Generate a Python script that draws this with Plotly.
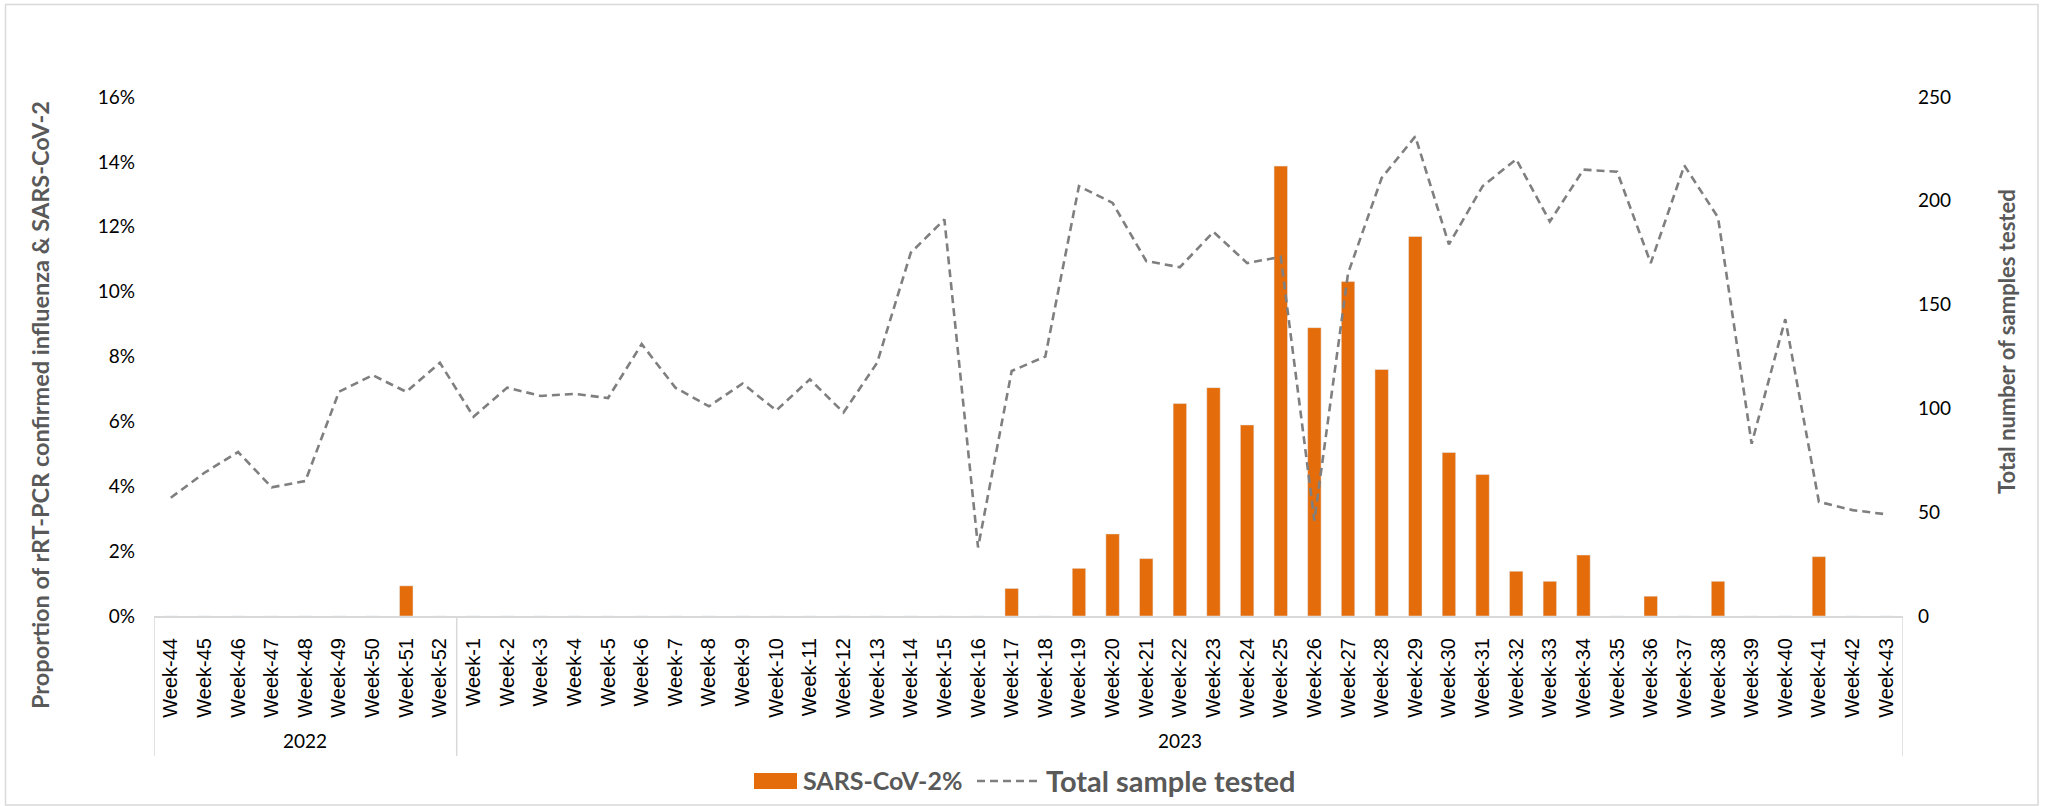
import plotly.graph_objects as go

weeks_2022 = ["Week-44", "Week-45", "Week-46", "Week-47", "Week-48", "Week-49", "Week-50", "Week-51", "Week-52"]
weeks_2023 = ["Week-%d" % i for i in range(1, 44)]
years = ["2022", "2023"]

sars_pct_2022 = [0, 0, 0, 0, 0, 0, 0, 0.93, 0]
sars_pct_2023 = [0, 0, 0, 0, 0, 0, 0, 0, 0, 0,
                 0, 0, 0, 0, 0, 0, 0.85, 0, 1.47, 2.53,
                 1.77, 6.55, 7.04, 5.89, 13.87, 8.89, 10.31, 7.60, 11.70, 5.04,
                 4.36, 1.38, 1.07, 1.88, 0, 0.61, 0, 1.07, 0, 0,
                 1.83, 0, 0]

tested_2022 = [57, 69, 79, 62, 65, 108, 116, 108, 122]
tested_2023 = [96, 110, 106, 107, 105, 131, 110, 101, 112, 99,
               114, 98, 122, 175, 191, 33, 118, 125, 207, 199,
               171, 168, 185, 170, 173, 46, 165, 211, 231, 179,
               207, 220, 190, 215, 214, 170, 217, 192, 83, 143,
               55, 51, 49]

weeks = weeks_2022 + weeks_2023
sars_pct = [v / 100 for v in sars_pct_2022 + sars_pct_2023]
tested = tested_2022 + tested_2023

ORANGE = "#E46C0A"
GRAY = "#7F7F7F"
TITLE = "#595959"
BOX = "#D9D9D9"

fig = go.Figure()
fig.add_trace(go.Bar(x=weeks, y=sars_pct, name="SARS-CoV-2%", marker_color=ORANGE,
                     width=0.4, yaxis="y", showlegend=False))
fig.add_trace(go.Scatter(x=weeks, y=tested, name="Total sample tested", mode="lines",
                         line=dict(color=GRAY, width=2.6, dash="8px,5px"), yaxis="y2",
                         showlegend=False))

W, H = 2046, 806
L, R, T, B = 154, 143, 97, 190
pw, ph = W - L - R, H - T - B
def px(xp):
    return (xp - L) / pw
def py(yp):
    return (H - B - yp) / ph

n22, n23 = len(weeks_2022), len(weeks_2023)
shapes = []
for xv in [-0.5, n22 - 0.5, n22 + n23 - 0.5]:
    shapes.append(dict(type="line", xref="x", yref="paper", x0=xv, x1=xv, y0=0, y1=py(756),
                       line=dict(color=BOX, width=1.5)))
shapes.append(dict(type="rect", xref="paper", yref="paper", x0=px(5.5), x1=px(2038), y0=py(4.5), y1=py(805),
                   line=dict(color=BOX, width=1.5), fillcolor="rgba(0,0,0,0)", layer="below"))
shapes.append(dict(type="rect", xref="paper", yref="paper", x0=px(754), x1=px(797), y0=py(773), y1=py(789),
                   line=dict(width=0), fillcolor=ORANGE))
shapes.append(dict(type="line", xref="paper", yref="paper", x0=px(977), x1=px(1039), y0=py(781), y1=py(781),
                   line=dict(color=GRAY, width=2.6, dash="8px,5px")))

annotations = [
    dict(text=years[0], x=(n22 - 1) / 2, xref="x", y=py(740), yref="paper", showarrow=False,
         font=dict(family="Lato", size=19, color="#000000"), xanchor="center", yanchor="middle"),
    dict(text=years[1], x=n22 + (n23 - 1) / 2, xref="x", y=py(740), yref="paper", showarrow=False,
         font=dict(family="Lato", size=19, color="#000000"), xanchor="center", yanchor="middle"),
    dict(text="<b>Proportion of rRT-PCR confirmed influenza & SARS-CoV-2</b>", textangle=-90,
         x=0, xref="paper", xshift=40 - L, y=py(405), yref="paper", showarrow=False,
         font=dict(family="Lato", size=23.5, color=TITLE), xanchor="center", yanchor="middle"),
    dict(text="<b>Total number of samples tested</b>", textangle=-90,
         x=1, xref="paper", xshift=2006 - (W - R), y=py(342), yref="paper", showarrow=False,
         font=dict(family="Lato", size=22, color=TITLE), xanchor="center", yanchor="middle"),
    dict(text="<b>SARS-CoV-2%</b>", x=px(801), xref="paper", y=py(780), yref="paper", showarrow=False,
         font=dict(family="Lato", size=25, color=TITLE), xanchor="left", yanchor="middle"),
    dict(text="<b>Total sample tested</b>", x=px(1044), xref="paper", y=py(780), yref="paper", showarrow=False,
         font=dict(family="Lato", size=29, color=TITLE), xanchor="left", yanchor="middle"),
]

fig.update_layout(
    width=W, height=H,
    margin=dict(l=L, r=R, t=T, b=B, pad=0),
    paper_bgcolor="white", plot_bgcolor="white",
    showlegend=False,
    xaxis=dict(type="category", categoryorder="array", categoryarray=weeks,
               range=[-0.5, len(weeks) - 0.5], tickangle=-90, showgrid=False, zeroline=False,
               showline=True, linecolor=BOX, linewidth=2, ticks="",
               tickfont=dict(family="Liberation Sans", size=20, color="#000000"),
               ticklabelstandoff=12),
    yaxis=dict(range=[0, 0.16], dtick=0.02, tickformat=".0%", showgrid=False, zeroline=False,
               showline=False, ticks="", ticklabelstandoff=18,
               tickfont=dict(family="Lato", size=19, color="#000000")),
    yaxis2=dict(range=[0, 250], dtick=50, overlaying="y", side="right", showgrid=False,
                zeroline=False, showline=False, ticks="", ticklabelstandoff=14,
                tickfont=dict(family="Lato", size=19, color="#000000")),
    shapes=shapes,
    annotations=annotations,
)

fig.write_html("out.html", config={"displayModeBar": False},
               post_script="document.body.style.margin='0';document.body.style.overflow='hidden';")
